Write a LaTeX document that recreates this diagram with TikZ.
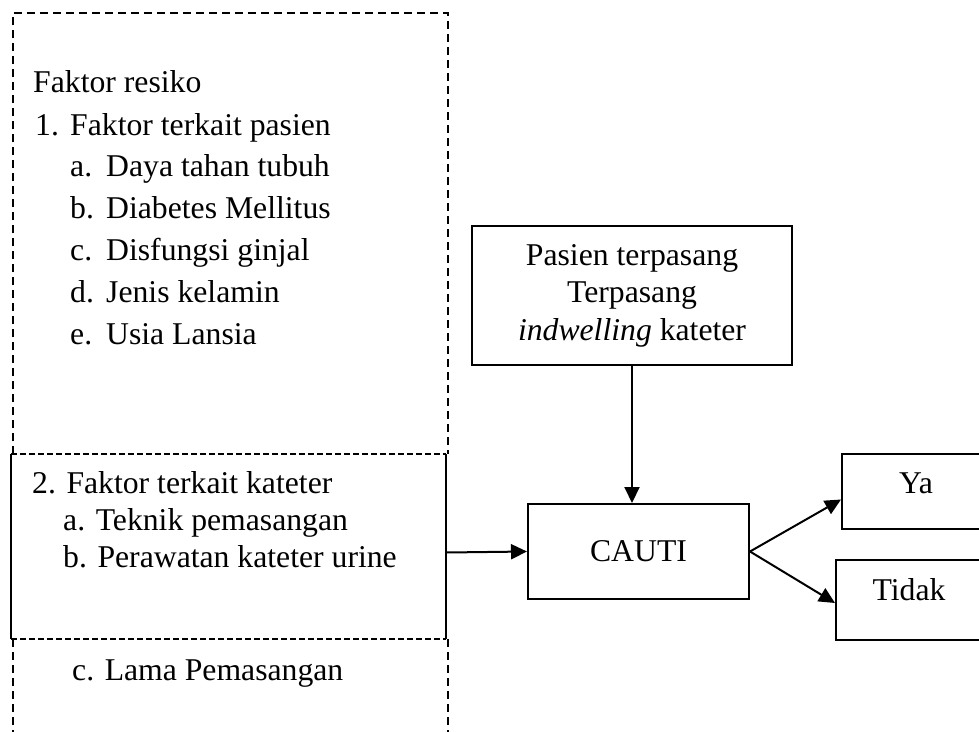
\documentclass[tikz,border=0pt]{standalone}
\usepackage{fontspec}
\setmainfont{Liberation Serif}
\usetikzlibrary{arrows.meta}
\begin{document}
\begin{tikzpicture}[x=1pt,y=-1pt,
  txt/.style={anchor=base west,inner sep=0pt,font=\fontsize{31.7}{37}\selectfont},
  ctxt/.style={anchor=base,inner sep=0pt,font=\fontsize{31.7}{37}\selectfont},
  boxe/.style={draw,line width=2pt,rectangle,inner sep=0pt},
  dsh/.style={line width=1.8pt,dash pattern=on 8pt off 5pt},
  dshd/.style={line width=1.8pt,dash pattern=on 6pt off 3pt},
  arr/.style={line width=2pt,-{Triangle[length=16pt,width=15pt]}}]
\clip (0,0) rectangle (979,731);
% outer dashed frame
\coordinate (o1) at (13,750);
\coordinate (o2) at (13,13);
\coordinate (o3) at (448,13);
\coordinate (o4) at (448,750);
\coordinate (ka) at (13,454);
\coordinate (kb) at (448,454);
\coordinate (kc) at (13,639);
\coordinate (kd) at (448,639);
\draw[dsh] (ka) -- (o2) -- (o3) -- (kb);
\draw[dsh] (kc) -- (o1);
\draw[dsh] (kd) -- (o4);
% solid box with dashed top/bottom
\node[draw=none,minimum width=435pt,minimum height=185pt,inner sep=0pt] (kat) at (228.5,546.5) {};
\draw[line width=2pt] (kat.north west) -- (kat.south west);
\draw[line width=2pt] (kat.north east) -- (kat.south east);
\draw[dshd] (kat.north west) -- (kat.north east);
\draw[dshd] (kat.south west) -- (kat.south east);
% list 1
\node[txt] (fr) at (33,92.7) {Faktor resiko};
\node[txt] (n1) at (35,135) {1.};
\node[txt] (t1) at (70,135) {Faktor terkait pasien};
\node[txt] (na) at (70,176.7) {a.};
\node[txt] (ta) at (106,176.7) {Daya tahan tubuh};
\node[txt] (nb) at (70,218.5) {b.};
\node[txt] (tb) at (106,218.5) {Diabetes Mellitus};
\node[txt] (nc) at (70,260.5) {c.};
\node[txt] (tc) at (106,260.5) {Disfungsi ginjal};
\node[txt] (nd) at (70,302.5) {d.};
\node[txt] (td) at (106,302.5) {Jenis kelamin};
\node[txt] (ne) at (70,344.5) {e.};
\node[txt] (te) at (106,344.5) {Usia Lansia};
% list 2
\node[txt] (t2) at (32,493) {2. Faktor terkait kateter};
\node[txt] (t2a) at (63,530) {a. Teknik pemasangan};
\node[txt] (t2b) at (63,567) {b. Perawatan kateter urine};
\node[txt] (t2c) at (72,680) {c. Lama Pemasangan};
% pasien box
\node[boxe,minimum width=320pt,minimum height=139pt] (pas) at (632,295.5) {};
\node[ctxt] (p1) at (632,265) {Pasien terpasang};
\node[ctxt] (p2) at (632,302) {Terpasang};
\node[ctxt] (p3) at (632,340) {\textit{indwelling} kateter};
% CAUTI
\node[boxe,minimum width=221pt,minimum height=95pt,font=\fontsize{31.7}{37}\selectfont] (cauti) at (638.5,551.5) {CAUTI};
% Ya / Tidak
\node[boxe,minimum width=150pt,minimum height=75pt] (ya) at (917,491.5) {};
\node[ctxt] (yat) at (916,493) {Ya};
\node[boxe,minimum width=150pt,minimum height=80pt] (td2) at (911,600) {};
\node[ctxt] (tdt) at (909,600) {Tidak};
% arrows
\draw[arr] (pas.south) -- (pas.south |- cauti.north);
\draw[arr] ([yshift=-6pt]kat.east) -- (cauti.west);
\draw[arr] (cauti.east) -- ([yshift=-8pt]ya.west);
\draw[arr] (cauti.east) -- ([yshift=-3pt]td2.west);
\end{tikzpicture}
\end{document}
